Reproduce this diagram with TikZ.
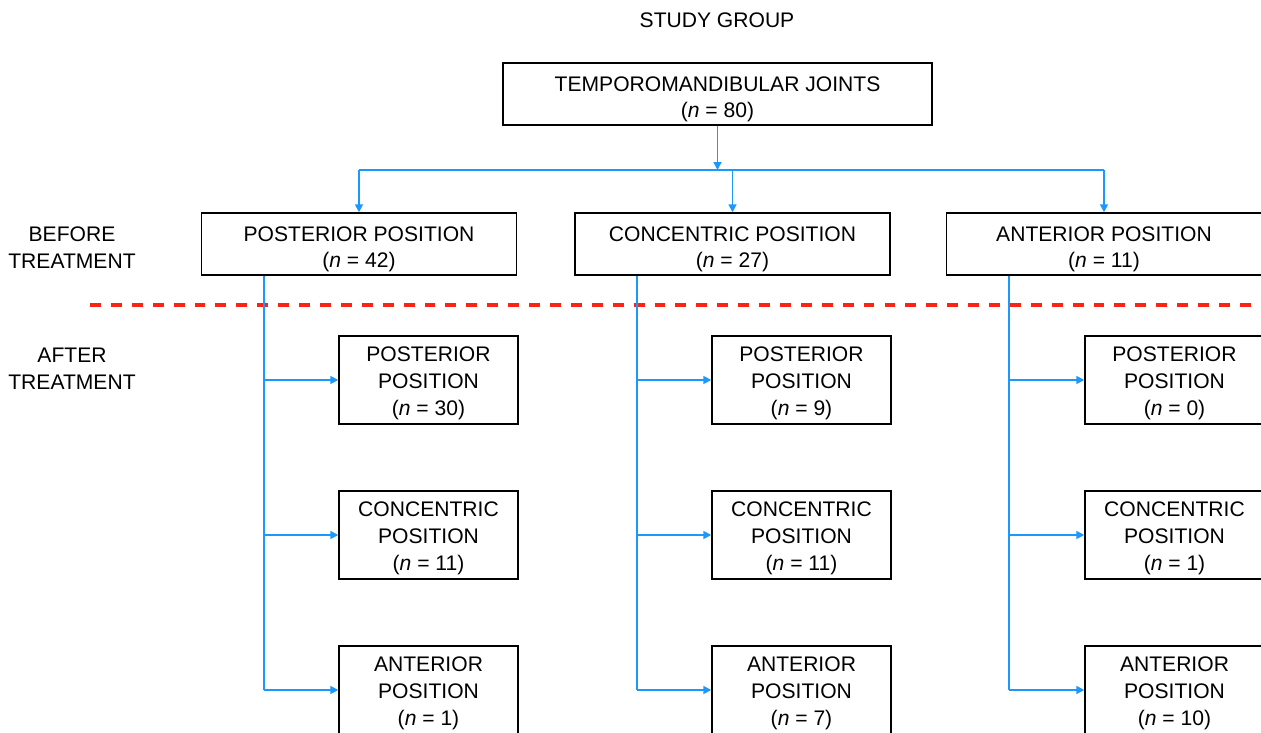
\documentclass[tikz,border=0pt]{standalone}
\usepackage{fontspec}
\setmainfont{Liberation Sans}
\usetikzlibrary{arrows.meta, positioning, calc}
\definecolor{linkblue}{RGB}{28, 152, 252}
\definecolor{cutred}{RGB}{250, 35, 20}
\tikzset{
  groupbox/.style={
    draw, rectangle, line width=0.85pt, text height=27.3pt, text depth=0pt,
    minimum width=8.58cm, minimum height=1.24cm, align=center
  },
  posbox/.style={
    draw, rectangle, line width=0.85pt, text height=27.3pt, text depth=0pt,
    minimum width=6.3cm, minimum height=1.24cm, align=center
  },
  childbox/.style={
    draw, rectangle, line width=0.85pt, text height=40.4pt, text depth=0pt,
    minimum width=3.58cm, minimum height=1.76cm, align=center
  },
  link/.style={
    draw=linkblue, line width=1pt
  },
  arrow/.style={
    link, -{Triangle[width=4.5pt, length=4.5pt]}
  },
  phase/.style={align=center}
}

\begin{document}
\begin{tikzpicture}[x=0.02cm, y=-0.02cm, font=\fontsize{12}{15.3}\selectfont]
  \clip (0,0) rectangle (1261,733);

  \node (title) at (717,20) {STUDY GROUP};
  \node[groupbox] (tmj) at (717.5,94) {TEMPOROMANDIBULAR JOINTS\\(\textit{n} = 80)};

  % before treatment
  \node[phase] (before) at (72,247.5) {BEFORE\\TREATMENT};
  \node[posbox] (post) at (359,244) {POSTERIOR POSITION\\(\textit{n} = 42)};
  \node[posbox] (conc) at (732.5,244) {CONCENTRIC POSITION\\(\textit{n} = 27)};
  \node[posbox] (ant) at (1104,244) {ANTERIOR POSITION\\(\textit{n} = 11)};

  \coordinate (split) at (717.5,170);
  \draw[arrow] (tmj) -- (split);
  \draw[link] (post.north |- split) -- (ant.north |- split);
  \foreach \b in {post, conc, ant}
    \draw[arrow] (\b.north |- split) -- (\b.north);

  % treatment cut
  \draw[cutred, line width=2.6pt, dash pattern=on 6.2pt off 5.7pt] (90,305) -- (1275,305);

  % after treatment
  \node[phase] (after) at (72,368.5) {AFTER\\TREATMENT};
  \foreach \col/\x/\np/\nc/\na in {post/428.5/30/11/1, conc/801.5/9/11/7, ant/1174.5/0/1/10} {
    \node[childbox] (\col P) at (\x,380) {POSTERIOR\\POSITION\\(\textit{n} = \np)};
    \node[childbox] (\col C) at (\x,535) {CONCENTRIC\\POSITION\\(\textit{n} = \nc)};
    \node[childbox] (\col A) at (\x,690) {ANTERIOR\\POSITION\\(\textit{n} = \na)};
    \coordinate (\col T) at ($(\col.south west)+(63,0)$);
    \draw[link] (\col T) -- (\col T |- \col A.west);
    \foreach \r in {P, C, A}
      \draw[arrow] (\col T |- \col\r.west) -- (\col\r.west);
  }
\end{tikzpicture}
\end{document}
